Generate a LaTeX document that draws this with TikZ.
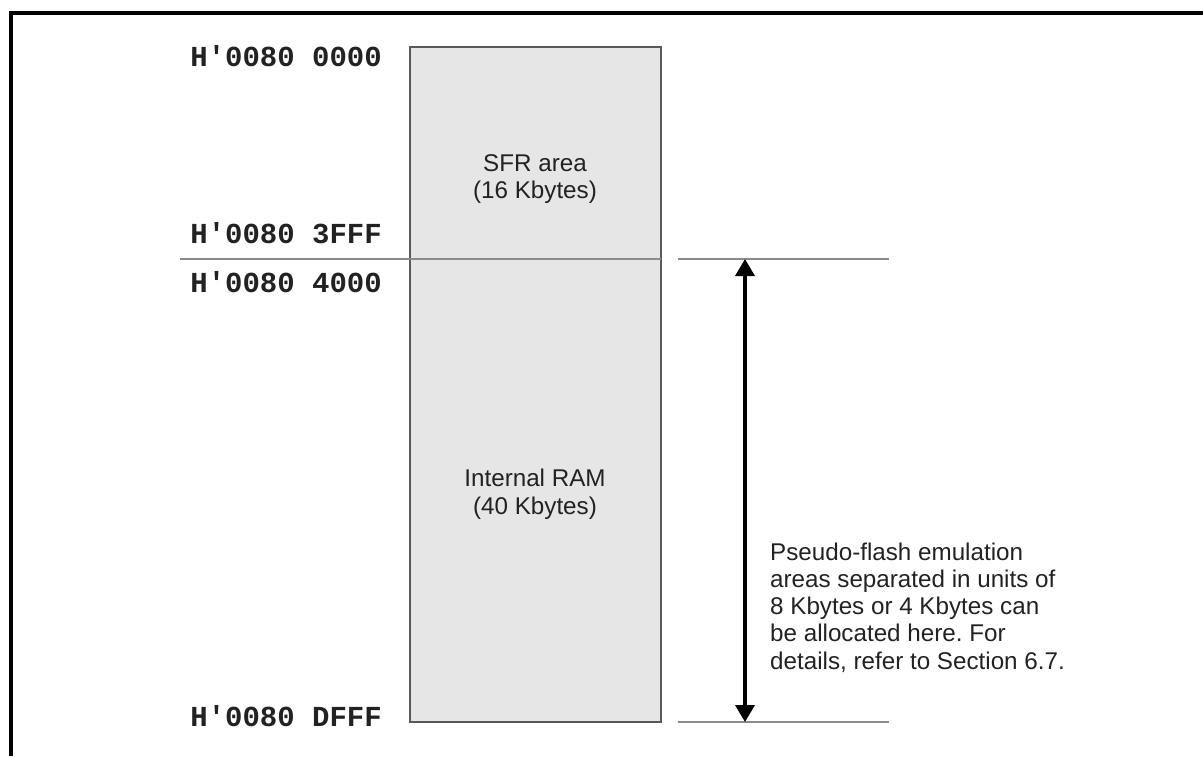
\documentclass[tikz,border=0pt]{standalone}
\usepackage{fontspec}
\setmainfont{Liberation Sans}
\newfontfamily\addrfont{Liberation Mono}
\usetikzlibrary{arrows.meta}
\frenchspacing
\definecolor{areafill}{HTML}{E6E6E7}
\definecolor{areaedge}{HTML}{5A5A5A}
\definecolor{guide}{HTML}{8A8A8A}
\definecolor{txt}{HTML}{222222}
\tikzset{
  addr/.style={anchor=base east, inner sep=0pt, font=\addrfont\bfseries\fontsize{29}{31}\selectfont, text=txt},
  areatext/.style={align=center, inner sep=0pt, font=\fontsize{24.2}{27.5}\selectfont, text=txt},
  notetext/.style={align=left, anchor=west, inner sep=0pt, font=\fontsize{24.2}{27.2}\selectfont, text=txt},
  areabox/.style={draw=areaedge, fill=areafill, line width=1.4pt},
  guideline/.style={draw=guide, line width=1.4pt},
  span/.style={line width=3.6pt, {Triangle[width=19pt,length=17pt]}-{Triangle[width=19pt,length=17pt]}}
}
\begin{document}
\begin{tikzpicture}[x=1pt,y=-1pt]
\useasboundingbox (0,0) rectangle (1203,756);
\draw[line width=4pt] (11,756) -- (11,13) -- (1203,13);
% memory areas
\draw[areabox] (410,47) rectangle (661,259);
\draw[areabox] (410,259) rectangle (661,722);
\draw[guideline] (180,259) -- (661,259);
\coordinate (gt1) at (678,259);
\coordinate (gt2) at (889,259);
\coordinate (gb1) at (678,722);
\coordinate (gb2) at (889,722);
\draw[guideline] (gt1) -- (gt2);
\draw[guideline] (gb1) -- (gb2);
\coordinate (atop) at (745,259);
\coordinate (abot) at (745,722);
\draw[span] (atop) -- (abot);
% texts
\node[areatext] (sfr) at (535,179) {SFR area\\(16 Kbytes)};
\node[areatext] (ram) at (535,494) {Internal RAM\\(40 Kbytes)};
\node[notetext] (note) at (770,607.5) {Pseudo-flash emulation\\areas separated in units of\\8 Kbytes or 4 Kbytes can\\be allocated here. For\\details, refer to Section 6.7.};
\node[addr] (a0) at (382,66.5) {H'0080 0000};
\node[addr] (a1) at (382,243) {H'0080 3FFF};
\node[addr] (a2) at (382,292) {H'0080 4000};
\node[addr] (a3) at (382,726) {H'0080 DFFF};
\end{tikzpicture}
\end{document}
